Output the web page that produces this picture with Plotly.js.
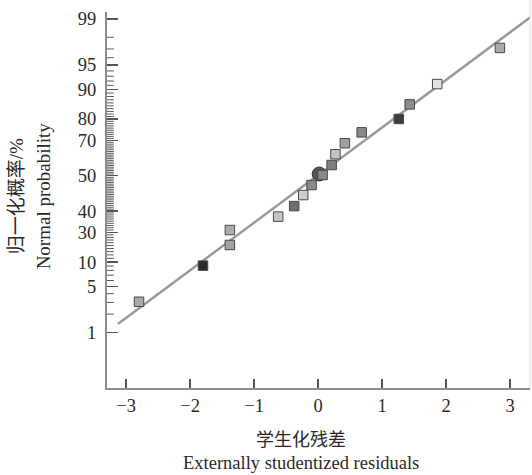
<!DOCTYPE html>
<html>
<head>
<meta charset="utf-8">
<script src="https://cdn.plot.ly/plotly-3.0.1.min.js"></script>
<style>html,body{margin:0;padding:0;background:#fff;}#chart{width:532px;height:475px;}</style>
</head>
<body>
<div id="chart"></div>
<script>
// ---- data ----
const residuals = [-2.80, -1.80, -1.38, -1.38, -0.625, -0.375, -0.234, -0.103, 0.069, 0.21, 0.27, 0.417, 0.68, 1.26, 1.43, 1.86, 2.84];
const probPct   = [3.07, 9.1, 15.2, 21.0, 27.2, 32.6, 38.7, 44.5, 50.4, 56.3, 62.5, 68.5, 74.0, 80.0, 85.5, 91.3, 97.1];
const fillGray  = ['#a9a9a9','#2b2b2b','#a2a2a2','#acacac','#c4c4c4','#6e6e6e','#cbcbcb','#8a8a8a','#888888','#808080','#c2c2c2','#a0a0a0','#8a8a8a','#3c3c3c','#8c8c8c','#e2e2e2','#aaaaaa'];
const centerX = [0.016];
const centerP = [51.0];
const fitX = [-3.13, 3.33];
const fitP = [1.39, 99.09];
const majorTickPct  = [99, 95, 90, 80, 70, 50, 30, 20, 10, 5, 1];
const majorTickText = ['99', '95', '90', '80', '70', '50', '40', '30', '10', '5', '1'];
const xTicks = [-3, -2, -1, 0, 1, 2, 3];

// inverse standard normal CDF (Acklam), used for the probability scale
function norminv(p) {
  const a = [-3.969683028665376e+01, 2.209460984245205e+02, -2.759285104469687e+02, 1.383577518672690e+02, -3.066479806614716e+01, 2.506628277459239e+00];
  const b = [-5.447609879822406e+01, 1.615858368580409e+02, -1.556989798598866e+02, 6.680131188771972e+01, -1.328068155288572e+01];
  const c = [-7.784894002430293e-03, -3.223964580411365e-01, -2.400758277161838e+00, -2.549732539343734e+00, 4.374664141464968e+00, 2.938163982698783e+00];
  const d = [7.784695709041462e-03, 3.224671290700398e-01, 2.445134137142996e+00, 3.754408661907416e+00];
  const pl = 0.02425, ph = 1 - pl;
  let q, r;
  if (p < pl) { q = Math.sqrt(-2 * Math.log(p)); return (((((c[0]*q+c[1])*q+c[2])*q+c[3])*q+c[4])*q+c[5]) / ((((d[0]*q+d[1])*q+d[2])*q+d[3])*q+1); }
  if (p <= ph) { q = p - 0.5; r = q*q; return (((((a[0]*r+a[1])*r+a[2])*r+a[3])*r+a[4])*r+a[5])*q / (((((b[0]*r+b[1])*r+b[2])*r+b[3])*r+b[4])*r+1); }
  q = Math.sqrt(-2 * Math.log(1 - p)); return -(((((c[0]*q+c[1])*q+c[2])*q+c[3])*q+c[4])*q+c[5]) / ((((d[0]*q+d[1])*q+d[2])*q+d[3])*q+1);
}
const z = pct => norminv(pct / 100);

const minorPct = [];
for (let i = 1; i <= 99; i++) if (majorTickPct.indexOf(i) < 0) minorPct.push(i);

const serif = 'Liberation Serif, Times New Roman, Noto Sans CJK SC, serif';
const yRange = [-3.15, 2.429];

const traces = [
  { x: fitX, y: fitP.map(z), mode: 'lines', line: { color: '#9a9a9a', width: 2.5 }, hoverinfo: 'skip', showlegend: false },
  { x: centerX, y: centerP.map(z), mode: 'markers', marker: { symbol: 'circle', size: 14, color: '#555555', line: { color: '#333333', width: 1 } }, showlegend: false },
  { x: residuals, y: probPct.map(z), mode: 'markers', marker: { symbol: 'square', size: 9.5, color: fillGray, line: { color: '#4a4a4a', width: 1 } }, showlegend: false }
];

// minor probability ticks on the left axis (placed through the y axis scale)
const minorTickShapes = minorPct.map(p => ({
  type: 'line', xref: 'paper', yref: 'y', x0: 0, x1: 0.016, y0: z(p), y1: z(p),
  line: { color: '#5a5a5a', width: 1 }, layer: 'above'
}));

const layout = {
  width: 532, height: 475,
  margin: { l: 107, r: 2, t: 12, b: 87 },
  paper_bgcolor: '#ffffff', plot_bgcolor: '#ffffff',
  font: { family: serif, size: 18, color: '#2a2a2a' },
  showlegend: false,
  xaxis: {
    range: [-3.30, 3.31], showgrid: false, zeroline: false,
    showline: true, linecolor: '#8c8c8c', linewidth: 2,
    tickmode: 'array', tickvals: xTicks, ticks: 'inside', ticklen: 9, tickwidth: 1.5, tickcolor: '#555555',
    tickfont: { family: serif, size: 18.5, color: '#2a2a2a' }
  },
  yaxis: {
    range: yRange, showgrid: false, zeroline: false,
    showline: true, linecolor: '#8c8c8c', linewidth: 2,
    tickmode: 'array', tickvals: majorTickPct.map(z), ticktext: majorTickText,
    ticks: 'inside', ticklen: 11, tickwidth: 1.5, tickcolor: '#555555',
    tickfont: { family: serif, size: 18.5, color: '#2a2a2a' },
    ticklabelstandoff: 5
  },
  shapes: [
    { type: 'line', xref: 'paper', yref: 'paper', x0: 1, x1: 1, y0: 0, y1: 1.035, line: { color: '#dddddd', width: 1 } }
  ].concat(minorTickShapes),
  annotations: [
    { text: '学生化残差', xref: 'paper', yref: 'paper', x: 0.459, y: -0.138, xanchor: 'center', yanchor: 'middle', showarrow: false, font: { family: serif, size: 18, color: '#2a2a2a' } },
    { text: 'Externally studentized residuals', xref: 'paper', yref: 'paper', x: 0.459, y: -0.199, xanchor: 'center', yanchor: 'middle', showarrow: false, font: { family: serif, size: 18.5, color: '#2a2a2a' } },
    { text: '归一化概率/%', xref: 'paper', yref: 'paper', x: -0.215, y: 0.51, xanchor: 'center', yanchor: 'middle', textangle: -90, showarrow: false, font: { family: serif, size: 19, color: '#2a2a2a' } },
    { text: 'Normal probability', xref: 'paper', yref: 'paper', x: -0.151, y: 0.51, xanchor: 'center', yanchor: 'middle', textangle: -90, showarrow: false, font: { family: serif, size: 19, color: '#2a2a2a' } }
  ]
};

Plotly.newPlot('chart', traces, layout, { staticPlot: true, displayModeBar: false });
</script>
</body>
</html>
